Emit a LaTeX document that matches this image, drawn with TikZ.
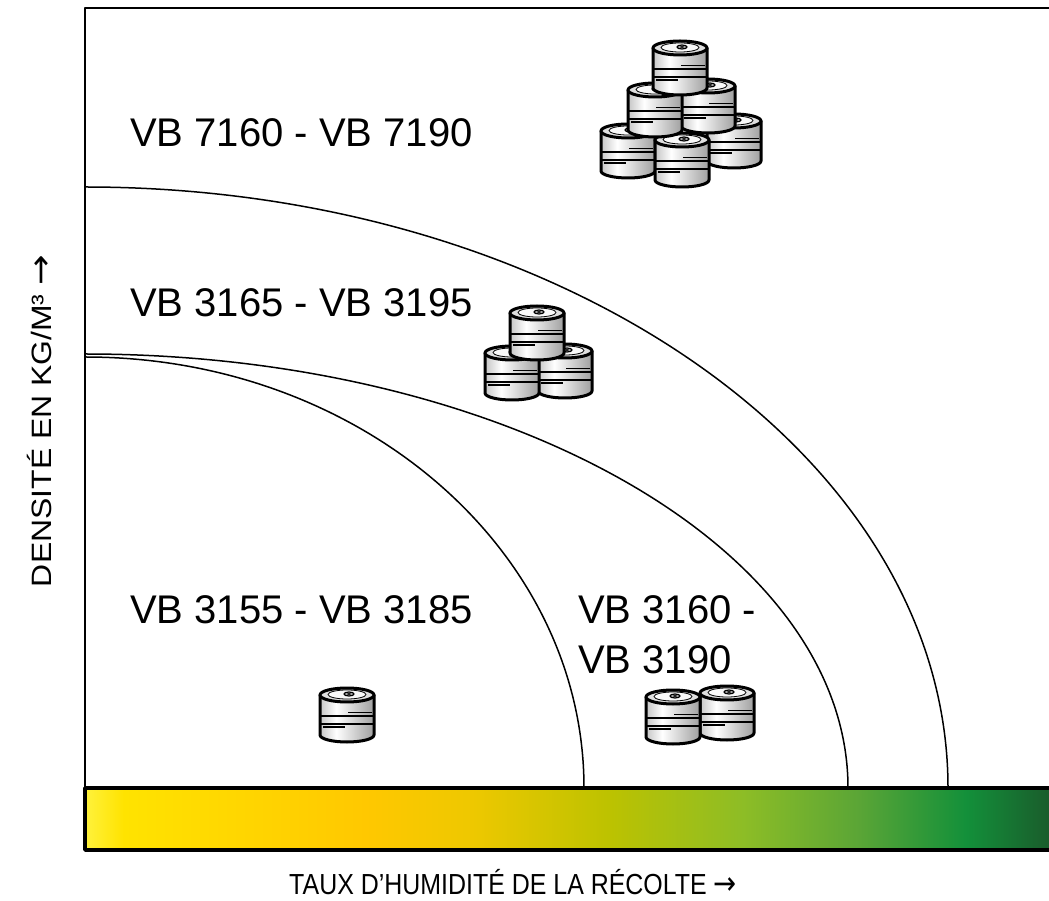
\documentclass[tikz,border=0pt]{standalone}
\usepackage{fontspec}
\setmainfont{Liberation Sans}
\newfontfamily\arrowfont{DejaVu Sans}
\usetikzlibrary{positioning}

\definecolor{m0}{HTML}{FFF23C}
\definecolor{m1}{HTML}{FFE300}
\definecolor{m2}{HTML}{FFC800}
\definecolor{m3}{HTML}{EEC800}
\definecolor{m4}{HTML}{BDC200}
\definecolor{m5}{HTML}{8DBD26}
\definecolor{m6}{HTML}{5AA536}
\definecolor{m7}{HTML}{13903A}
\definecolor{m8}{HTML}{1A5A2B}

\pgfdeclarehorizontalshading{moisture}{100bp}{color(0bp)=(m0); color(25bp)=(m0); color(27bp)=(m1);
  color(39.5bp)=(m2); color(45bp)=(m3); color(52bp)=(m4); color(59bp)=(m5); color(65bp)=(m6);
  color(70.5bp)=(m7); color(75bp)=(m8); color(100bp)=(m8)}
\pgfdeclarehorizontalshading{balebody}{100bp}{color(0bp)=(gray!45); color(25bp)=(gray!45);
  color(40bp)=(white); color(75bp)=(gray!75); color(100bp)=(gray!75)}

% one bale, origin at the centre of its bottom
\newcommand{\bale}[1]{%
  \begin{scope}[shift={(#1)}]
    \shadedraw[shading=balebody,line width=3pt] (-27,40) -- (-27,0)
      arc[start angle=180,end angle=360,x radius=27,y radius=7] -- (27,40) -- cycle;
    \draw[fill=gray!25,line width=3pt] (0,40) ellipse[x radius=27,y radius=7];
    \draw[fill=gray!5,line width=0.8pt] (0,40.5) ellipse[x radius=19,y radius=4.5];
    \draw[fill=gray!60,line width=1.2pt] (2,41) ellipse[x radius=5,y radius=2];
    \fill (2,41) ellipse[x radius=2,y radius=0.8];
    \draw[line width=1.6pt] (-27,19) -- (27,19);
    \draw[line width=1.6pt] (-27,11) -- (27,11);
    \draw[line width=1.1pt] (1,22.5) -- (25,22.5);
    \draw[line width=1.1pt] (-24,8) -- (-2,8);
  \end{scope}}

\begin{document}
\begin{tikzpicture}[x=1pt,y=1pt,font=\fontsize{40}{50}\selectfont,line join=round]
  \useasboundingbox[fill=white] (0,0) rectangle (1049,900);
  % zones
  \draw[line width=1.5pt] (85,713) arc[start angle=90,end angle=0,x radius=863,y radius=601];
  \draw[line width=1.5pt] (85,546) arc[start angle=90,end angle=0,x radius=763,y radius=434];
  \draw[line width=1.5pt] (85,543) arc[start angle=90,end angle=0,x radius=499,y radius=431];
  % humidity bar and frame
  \shadedraw[shading=moisture,line width=3.5pt] (85,50) rectangle (1053,112);
  \draw[line width=2pt] (85,112) -- (85,892) -- (1053,892);
  % labels
  \node[anchor=base west,inner sep=0] (z7160) at (130,753) {VB 7160 - VB 7190};
  \node[anchor=base west,inner sep=0] (z3165) at (130,583) {VB 3165 - VB 3195};
  \node[anchor=base west,inner sep=0] (z3155) at (130,276) {VB 3155 - VB 3185};
  \node[anchor=base west,inner sep=0] (z3160) at (578,276) {VB 3160 -};
  \node[anchor=base west,inner sep=0] (z3190) at ([yshift=-50pt]z3160.base west) {VB 3190};
  \node[font=\fontsize{29}{34}\selectfont,xscale=0.86] (xlabel) at (513,18) {TAUX D’HUMIDITÉ DE LA RÉCOLTE {\arrowfont\fontsize{32}{34}\selectfont →}};
  \node[font=\fontsize{28}{34}\selectfont,rotate=90,xscale=1.14] (ylabel) at (39,479) {DENSITÉ EN KG/M³ {\arrowfont\fontsize{32}{34}\selectfont →}};
  % bales
  \bale{347,165}
  \foreach \p in {{727,167},{673,163}} \bale{\p};
  \foreach \p in {{565,509},{512,507},{537,547}} \bale{\p};
  \foreach \p in {{734,739},{628,729},{682,720},{708,774},{655,770},{680,812}} \bale{\p};
\end{tikzpicture}
\end{document}
